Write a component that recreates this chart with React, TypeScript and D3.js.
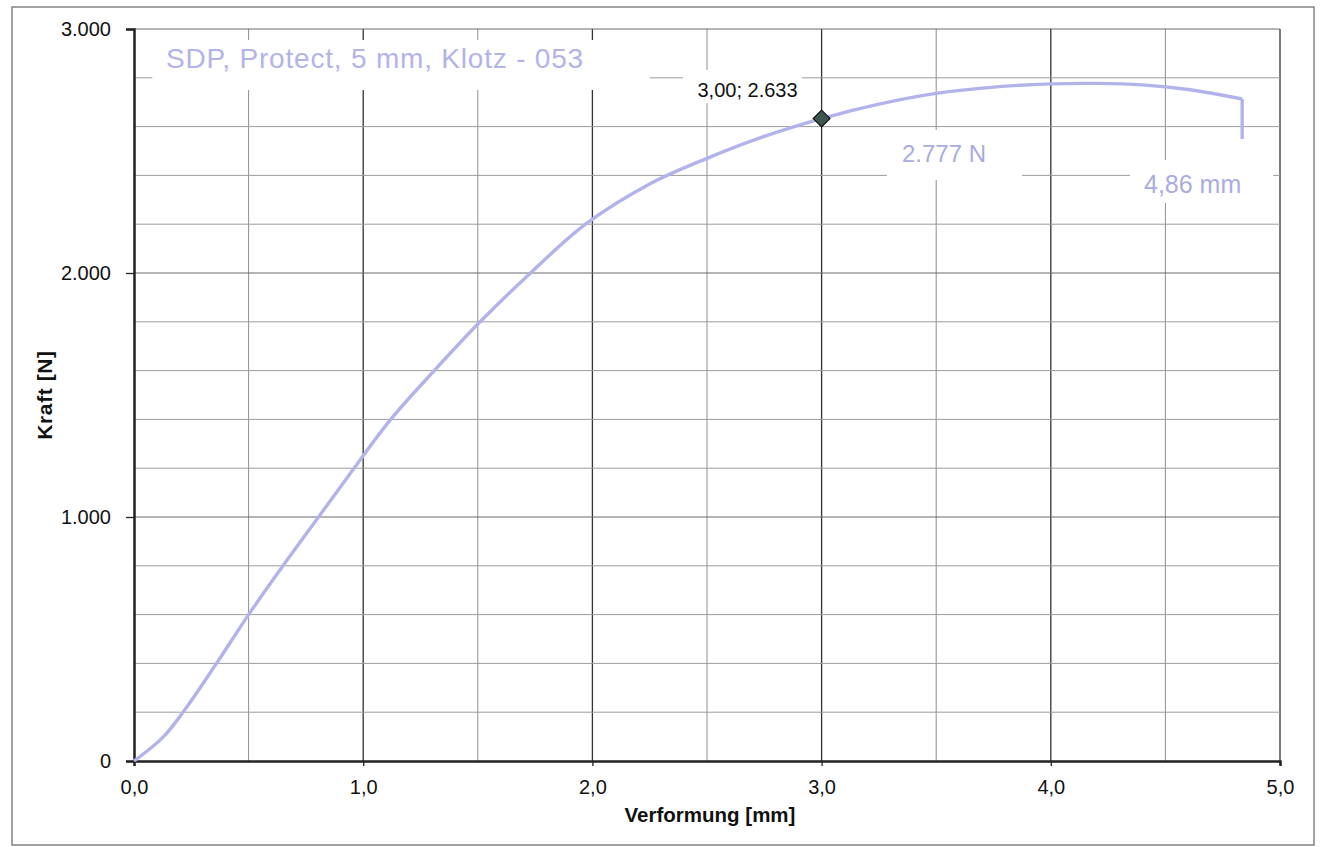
import React, { useRef, useEffect } from 'react';
import * as d3 from 'd3';

// measured curve: Verformung [mm] vs Kraft [N]
const deformation = [0, 0.127, 0.214, 0.36, 0.5, 0.65, 0.805, 0.96, 1.12, 1.31, 1.51, 1.73, 1.97, 2.25, 2.5, 2.75, 3.0, 3.25, 3.5, 3.75, 4.0, 4.2, 4.4, 4.6, 4.835, 4.835];
const force = [0, 98, 200, 400, 600, 800, 1000, 1200, 1400, 1600, 1800, 2000, 2200, 2365, 2470, 2560, 2633, 2692, 2736, 2762, 2775, 2777, 2771, 2752, 2713, 2549];

const xTicks = [0, 1, 2, 3, 4, 5];
const yTicks = [0, 1000, 2000, 3000];
const xGrid = [0.5, 1, 1.5, 2, 2.5, 3, 3.5, 4, 4.5, 5];
const yGrid = [200, 400, 600, 800, 1000, 1200, 1400, 1600, 1800, 2000, 2200, 2400, 2600, 2800, 3000];

const markerPoint = { x: 3.0, y: 2633 };
const title = 'SDP, Protect, 5 mm, Klotz - 053';
const maxLabel = '2.777 N';
const endLabel = '4,86 mm';
const markerLabel = '3,00; 2.633';

const W = 1323;
const H = 847;
const margin = { left: 134, right: 43, top: 29, bottom: 86 };
const curveColor = '#b3b3ec';
const labelColor = '#a9acdf';
const font = 'Liberation Sans, Arial, sans-serif';

const de = d3.formatLocale({ decimal: ',', thousands: '.', grouping: [3], currency: ['', '€'] });

function App() {
  const svgRef = useRef<SVGSVGElement>(null);

  useEffect(() => {
    const svg = d3.select(svgRef.current);
    svg.selectAll('*').remove();

    const x = d3.scaleLinear().domain([0, 5]).range([margin.left, W - margin.right]);
    const y = d3.scaleLinear().domain([0, 3000]).range([H - margin.bottom, margin.top]);

    svg.append('rect').attr('width', W).attr('height', H).attr('fill', '#fff');
    // outer frame
    svg.append('rect')
      .attr('x', 12).attr('y', 7).attr('width', W - 21).attr('height', H - 9)
      .attr('fill', 'none').attr('stroke', '#7a7a7a').attr('stroke-width', 1.4);

    const grid = svg.append('g');
    grid.selectAll('.vg').data(xGrid).join('line')
      .attr('x1', (d) => x(d)).attr('x2', (d) => x(d))
      .attr('y1', y(3000)).attr('y2', y(0))
      .attr('stroke', (d) => (d % 1 === 0 ? '#333' : '#8f8f8f'))
      .attr('stroke-width', (d) => (d % 1 === 0 ? 1.3 : 1));
    grid.selectAll('.hg').data(yGrid).join('line')
      .attr('x1', x(0)).attr('x2', x(5))
      .attr('y1', (d) => y(d)).attr('y2', (d) => y(d))
      .attr('stroke', (d) => (d % 1000 === 0 ? '#6a6a6a' : '#9c9c9c'))
      .attr('stroke-width', 1);

    // white boxes behind the labels cut the grid, as in the original
    const boxes = [
      { x0: 0.08, x1: 2.25, y0: 2955, y1: 2750 },
      { x0: 2.395, x1: 2.915, y0: 2832, y1: 2697 },
      { x0: 3.285, x1: 3.874, y0: 2586, y1: 2381 },
      { x0: 4.345, x1: 4.97, y0: 2463, y1: 2287 },
    ];
    svg.append('g').selectAll('rect').data(boxes).join('rect')
      .attr('x', (d) => x(d.x0)).attr('y', (d) => y(d.y0))
      .attr('width', (d) => x(d.x1) - x(d.x0)).attr('height', (d) => y(d.y1) - y(d.y0))
      .attr('fill', '#fff');

    const xAxis = d3.axisBottom(x).tickValues(xTicks).tickSize(5).tickPadding(14)
      .tickFormat((d) => de.format(',.1f')(d as number));
    svg.append('g').attr('transform', `translate(0,${y(0)})`).call(xAxis)
      .call((g) => g.select('.domain').attr('stroke', '#222').attr('stroke-width', 2.5))
      .call((g) => g.selectAll('.tick line').attr('stroke', '#222').attr('stroke-width', 1.3))
      .call((g) => g.selectAll('.tick text').attr('font-family', font).attr('font-size', 20).attr('fill', '#111'));

    const yAxis = d3.axisLeft(y).tickValues(yTicks).tickSize(8).tickPadding(15)
      .tickFormat((d) => de.format(',')(d as number));
    svg.append('g').attr('transform', `translate(${x(0)},0)`).call(yAxis)
      .call((g) => g.select('.domain').attr('stroke', '#222').attr('stroke-width', 2.5))
      .call((g) => g.selectAll('.tick line').attr('stroke', '#222').attr('stroke-width', 1.3))
      .call((g) => g.selectAll('.tick text').attr('font-family', font).attr('font-size', 20).attr('fill', '#111'));

    // curve
    const pts = deformation.map((d, i) => [d, force[i]] as [number, number]);
    const line = d3.line<[number, number]>().x((d) => x(d[0])).y((d) => y(d[1])).curve(d3.curveCatmullRom.alpha(0.5));
    svg.append('path').datum(pts.slice(0, -1))
      .attr('d', line).attr('fill', 'none')
      .attr('stroke', curveColor).attr('stroke-width', 3.4).attr('stroke-linejoin', 'round');
    svg.append('path').datum(pts.slice(-2))
      .attr('d', d3.line<[number, number]>().x((d) => x(d[0])).y((d) => y(d[1])))
      .attr('fill', 'none').attr('stroke', curveColor).attr('stroke-width', 3.4);

    // marker
    const sym = d3.symbol().type(d3.symbolDiamond2).size(180);
    svg.append('path').attr('d', sym)
      .attr('transform', `translate(${x(markerPoint.x)},${y(markerPoint.y)})`)
      .attr('fill', '#3e5752').attr('stroke', '#111').attr('stroke-width', 1.2);

    svg.append('text').attr('x', x(markerPoint.x) - 24).attr('y', y(markerPoint.y) - 22)
      .attr('text-anchor', 'end').attr('font-family', font).attr('font-size', 20).attr('fill', '#111')
      .text(markerLabel);

    svg.append('text').attr('x', 166).attr('y', 68)
      .attr('font-family', font).attr('font-size', 28).attr('letter-spacing', 0.8)
      .attr('fill', curveColor).text(title);
    svg.append('text').attr('x', 902).attr('y', 162)
      .attr('font-family', font).attr('font-size', 24).attr('fill', labelColor).text(maxLabel);
    svg.append('text').attr('x', 1144).attr('y', 193)
      .attr('font-family', font).attr('font-size', 25).attr('fill', labelColor).text(endLabel);

    // axis titles
    svg.append('text').attr('x', 710).attr('y', 822)
      .attr('text-anchor', 'middle').attr('font-family', font).attr('font-weight', 'bold')
      .attr('font-size', 20.5).attr('fill', '#111').text('Verformung [mm]');
    svg.append('text').attr('transform', `translate(52,${(y(0) + y(3000)) / 2}) rotate(-90)`)
      .attr('text-anchor', 'middle').attr('font-family', font).attr('font-weight', 'bold')
      .attr('font-size', 21).attr('letter-spacing', 0.6).attr('fill', '#111').text('Kraft [N]');
  }, []);

  return (
    <svg ref={svgRef} width={W} height={H} style={{ position: 'absolute', left: 0, top: 0 }} />
  );
}

export default App;
